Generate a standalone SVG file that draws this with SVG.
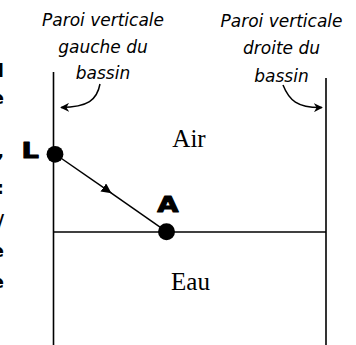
<svg xmlns="http://www.w3.org/2000/svg" width="356" height="345" viewBox="0 0 356 345">
<defs>
<style>
.wall{stroke:#000;stroke-width:1.6;fill:none}
.lbl{font-family:"DejaVu Sans",sans-serif;font-style:italic;font-size:17px;fill:#000;text-anchor:middle}
.med{font-family:"Liberation Serif","Times New Roman",serif;font-size:25px;fill:#000;text-anchor:middle}
.pt{font-family:"DejaVu Sans",sans-serif;font-weight:bold;fill:#000;stroke:#000;stroke-width:1;stroke-linejoin:round;text-anchor:middle}
.frag{font-family:"DejaVu Sans",sans-serif;font-weight:bold;font-size:18px;fill:#000;text-anchor:end}
.curve{stroke:#000;stroke-width:1.5;fill:none}
</style>
<marker id="ah" viewBox="0 0 10 10" refX="10" refY="5" markerWidth="10" markerHeight="10" markerUnits="userSpaceOnUse" orient="auto">
<path d="M0,0 L10,5 L0,10 Z" fill="#000"/>
</marker>
<marker id="ch" viewBox="0 0 10 10" refX="9" refY="5" markerWidth="9" markerHeight="9" markerUnits="userSpaceOnUse" orient="auto">
<path d="M0,0 L10,5 L0,10 L3,5 Z" fill="#000"/>
</marker>
</defs>
<g id="fragments">
<text class="frag" x="4" y="77">l</text>
<text class="frag" x="4" y="104">e</text>
<text class="frag" x="4" y="157">,</text>
<text class="frag" x="4" y="194">:</text>
<text class="frag" x="4" y="227">/</text>
<text class="frag" x="4" y="257">e</text>
<text class="frag" x="4" y="288">e</text>
</g>
<g id="walls">
<line class="wall" x1="53.5" y1="72" x2="53.5" y2="345"/>
<line class="wall" x1="326" y1="78" x2="326" y2="345"/>
<line class="wall" x1="53.5" y1="232" x2="326" y2="232"/>
</g>
<g id="label-left">
<text class="lbl" x="103" y="26">Paroi verticale</text>
<text class="lbl" x="103" y="53">gauche du</text>
<text class="lbl" x="103" y="79">bassin</text>
</g>
<g id="label-right">
<text class="lbl" x="281.5" y="27">Paroi verticale</text>
<text class="lbl" x="281.5" y="54">droite du</text>
<text class="lbl" x="281.5" y="82">bassin</text>
</g>
<g id="media">
<text class="med" x="189" y="147">Air</text>
<text class="med" x="190.5" y="290">Eau</text>
</g>
<g id="connectors">
<path class="curve" d="M100,84 C97,100 88,107 61,107.5" marker-end="url(#ch)"/>
<path class="curve" d="M283,85 C289,100 297,108 322,107.5" marker-end="url(#ch)"/>
<line x1="55" y1="154" x2="111.5" y2="193.2" stroke="#000" stroke-width="1.5" marker-end="url(#ah)"/>
<line x1="111" y1="192.8" x2="166.5" y2="231.7" stroke="#000" stroke-width="1.5"/>
</g>
<g id="node-L">
<circle cx="55" cy="154.3" r="8.4" fill="#000"/>
<text class="pt" font-size="21" transform="translate(30.3,158) scale(1.3,1)" x="0" y="0">L</text>
</g>
<g id="node-A">
<circle cx="166.5" cy="231.7" r="8.5" fill="#000"/>
<text class="pt" font-size="22" transform="translate(167.8,212) scale(1.25,1)" x="0" y="0">A</text>
</g>
</svg>
